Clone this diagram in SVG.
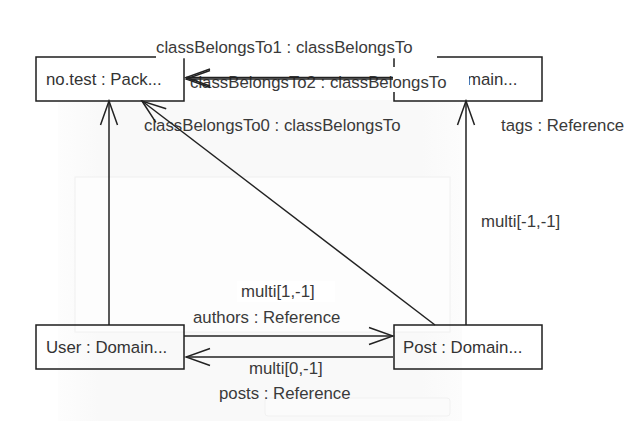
<svg xmlns="http://www.w3.org/2000/svg" width="640" height="421" viewBox="0 0 640 421">
<style>
.box{fill:none;stroke:#1e1e1e;stroke-width:1.5}
.nt{font-family:"Liberation Sans",Arial,sans-serif;font-size:16.8px;fill:#333}
.lb{font-family:"Liberation Sans",Arial,sans-serif;font-size:16.8px;fill:#3a3a3a}
.bg{fill:#fff}
.edge{fill:none;stroke:#222;stroke-width:1.5;marker-end:url(#arr)}
.ghost2{fill:#fdfdfd;stroke:#f0f0f0;stroke-width:1}
</style>
<defs>
<marker id="arr" viewBox="-26 -10 28 20" markerWidth="28" markerHeight="20" refX="0" refY="0" orient="auto" markerUnits="userSpaceOnUse">
<path d="M-24,-8.5 L0,0 L-24,8.5" fill="none" stroke="#222" stroke-width="1.5"/>
</marker>
<linearGradient id="gfade" x1="0" y1="0" x2="1" y2="0">
<stop offset="0" stop-color="#fdfdfd"/>
<stop offset="0.1" stop-color="#f9f9f9"/>
<stop offset="0.9" stop-color="#f9f9f9"/>
<stop offset="1" stop-color="#fcfcfc"/>
</linearGradient>
</defs>
<rect width="640" height="421" fill="#fff"/>
<g id="background">
<rect x="58" y="100" width="404" height="321" fill="url(#gfade)"/>
<rect x="75" y="177" width="375" height="155" class="ghost2"/>
<rect x="265" y="398" width="185" height="18" rx="3" fill="#fbfbfb" stroke="#f1f1f1"/>
</g>
<g id="node-package">
<rect class="box" x="36" y="57" width="148" height="44"/>
<text class="nt" x="46" y="85">no.test : Pack...</text>
</g>
<g id="node-tag">
<rect class="box" x="394" y="57" width="148" height="44"/>
<text class="nt" x="467" y="85">main...</text>
</g>
<g id="node-user">
<rect class="box" x="36" y="325" width="148" height="44"/>
<text class="nt" x="46" y="353">User : Domain...</text>
</g>
<g id="node-post">
<rect class="box" x="394" y="325" width="148" height="44"/>
<text class="nt" x="403" y="353">Post : Domain...</text>
</g>
<g id="labels">
<rect class="bg" x="156" y="38" width="281" height="20.3"/>
<text class="lb" x="156" y="53">classBelongsTo1 : classBelongsTo</text>
<rect class="bg" x="188" y="67" width="281" height="25"/>
<text class="lb" x="190" y="88">classBelongsTo2 : classBelongsTo</text>
<text class="lb" x="144" y="131">classBelongsTo0 : classBelongsTo</text>
<text class="lb" x="501" y="131">tags : Reference</text>
<text class="lb" x="481" y="227">multi[-1,-1]</text>
<rect class="bg" x="237" y="281" width="98" height="21"/>
<text class="lb" x="241" y="297">multi[1,-1]</text>
<text class="lb" x="193" y="323">authors : Reference</text>
<text class="lb" x="249" y="374">multi[0,-1]</text>
<text class="lb" x="219" y="399">posts : Reference</text>
</g>
<g id="connectors">
<line class="edge" x1="393" y1="77.5" x2="186" y2="77.5"/>
<line class="edge" x1="393" y1="79" x2="186" y2="79"/>
<line class="edge" x1="435" y1="325" x2="142" y2="101"/>
<line class="edge" x1="109" y1="325" x2="109" y2="101"/>
<line class="edge" x1="466" y1="325" x2="466" y2="101"/>
<line class="edge" x1="184" y1="336" x2="393" y2="336"/>
<line class="edge" x1="393" y1="357" x2="186" y2="357"/>
</g>
</svg>
